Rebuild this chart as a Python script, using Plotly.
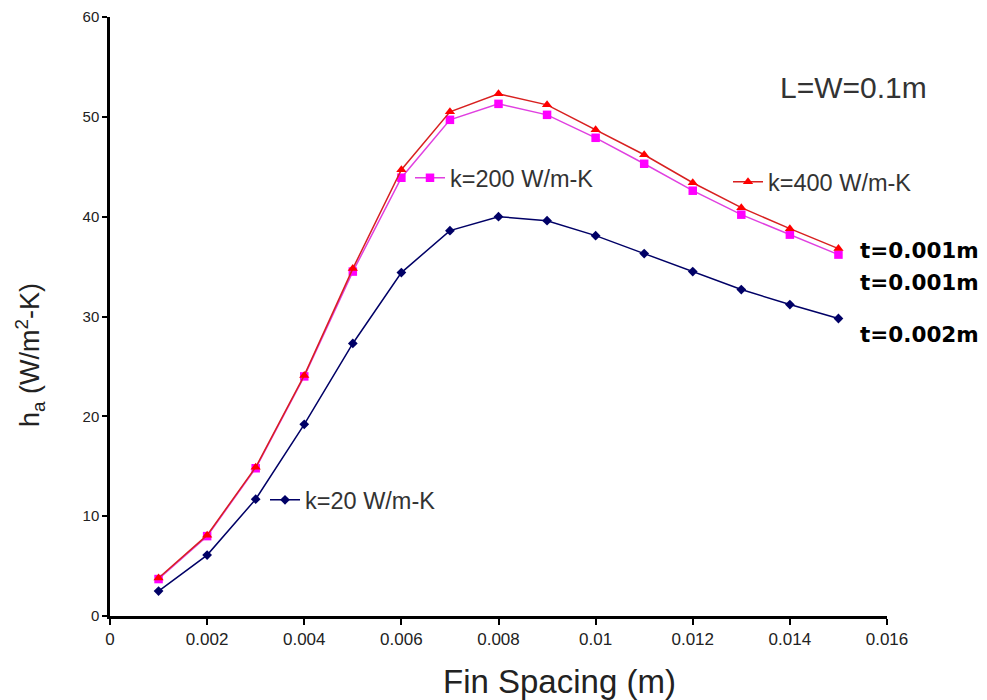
import plotly.graph_objects as go

x_spacing = [0.001, 0.002, 0.003, 0.004, 0.005, 0.006, 0.007, 0.008,
             0.009, 0.010, 0.011, 0.012, 0.013, 0.014, 0.015]
h_k20 = [2.5, 6.1, 11.7, 19.2, 27.3, 34.4, 38.6, 40.0, 39.6, 38.1, 36.3, 34.5, 32.7, 31.2, 29.8]
h_k200 = [3.7, 8.0, 14.8, 24.0, 34.5, 43.9, 49.7, 51.3, 50.2, 47.9, 45.3, 42.6, 40.2, 38.2, 36.2]
h_k400 = [3.8, 8.1, 14.9, 24.1, 34.8, 44.7, 50.5, 52.3, 51.2, 48.7, 46.2, 43.4, 40.9, 38.8, 36.8]

x_ticks = [0, 0.002, 0.004, 0.006, 0.008, 0.01, 0.012, 0.014, 0.016]
x_tick_text = ["0", "0.002", "0.004", "0.006", "0.008", "0.01", "0.012", "0.014", "0.016"]
y_ticks = [0, 10, 20, 30, 40, 50, 60]

FONT = "Liberation Sans, Arial, sans-serif"

fig = go.Figure()
fig.add_trace(go.Scatter(
    x=x_spacing, y=h_k200, name="k=200 W/m-K", mode="lines+markers",
    line=dict(color="#e040e0", width=1.5),
    marker=dict(symbol="square", size=8.5, color="#ff00ff"),
    legend="legend2"))
fig.add_trace(go.Scatter(
    x=x_spacing, y=h_k400, name="k=400 W/m-K", mode="lines+markers",
    line=dict(color="#d82020", width=1.5),
    marker=dict(symbol="triangle-up", size=9, color="#ff0000"),
    legend="legend"))
fig.add_trace(go.Scatter(
    x=x_spacing, y=h_k20, name="k=20 W/m-K", mode="lines+markers",
    line=dict(color="#000066", width=1.5),
    marker=dict(symbol="diamond", size=7.5, color="#000066"),
    legend="legend3"))

# plot area (page pixels): x 110..887, y 17..616 ; page has an 8px body margin
PW, PH = 777.0, 599.0

def px(xp):
    return (xp - 110) / PW

def py(yp):
    return (616 - yp) / PH

leg_common = dict(bgcolor="rgba(0,0,0,0)", font=dict(family=FONT, size=23.5, color="#333333"),
                  xanchor="left", yanchor="middle", itemwidth=30, borderwidth=0)
fig.update_layout(
    legend=dict(x=px(728), y=py(182), **leg_common),
    legend2=dict(x=px(410), y=py(178), **leg_common),
    legend3=dict(x=px(265), y=py(500), **leg_common),
)

fig.update_xaxes(
    range=[0, 0.016], tickvals=x_ticks, ticktext=x_tick_text,
    showgrid=False, zeroline=False, showline=True, linecolor="black", linewidth=2.5,
    ticks="outside", ticklen=6, tickwidth=2, tickcolor="black",
    tickfont=dict(family=FONT, size=17, color="#222222"))
fig.update_yaxes(
    range=[0, 60], tickvals=y_ticks,
    showgrid=False, zeroline=False, showline=True, linecolor="black", linewidth=2.5,
    ticks="outside", ticklen=5, tickwidth=2, tickcolor="black",
    tickfont=dict(family=FONT, size=15, color="#222222"))

ann = [
    dict(text="Fin Spacing (m)", xref="paper", yref="paper", x=px(559), y=py(681),
         xanchor="center", yanchor="middle", showarrow=False,
         font=dict(family=FONT, size=33, color="#222222")),
    dict(text="h<sub>a</sub> (W/m<sup>2</sup>-K)", xref="paper", yref="paper",
         x=px(30), y=py(355), textangle=-90,
         xanchor="center", yanchor="middle", showarrow=False,
         font=dict(family=FONT, size=27, color="#222222")),
    dict(text="L=W=0.1m", xref="paper", yref="paper", x=px(853), y=py(88),
         xanchor="center", yanchor="middle", showarrow=False,
         font=dict(family=FONT, size=30, color="#333333")),
]
for label, ypx in [("t=0.001m", 250), ("t=0.001m", 282), ("t=0.002m", 334)]:
    ann.append(dict(text=f"<b>{label}</b>", xref="paper", yref="paper",
                    x=px(858), y=py(ypx),
                    xanchor="left", yanchor="middle", showarrow=False,
                    font=dict(family="DejaVu Sans", size=21.5, color="black")))

fig.update_layout(
    width=979, height=692,
    margin=dict(l=102, r=100, t=9, b=84, autoexpand=False),
    plot_bgcolor="white", paper_bgcolor="white",
    annotations=ann,
    showlegend=True,
)
fig.write_html("out.html")
